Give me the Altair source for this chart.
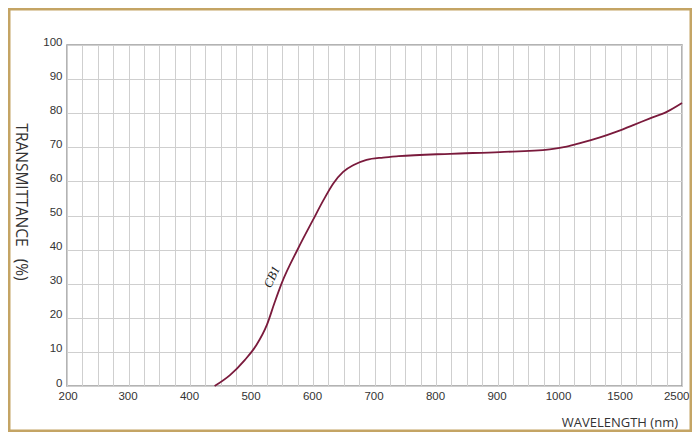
import altair as alt
import pandas as pd

# ---- data ----
wavelength = [440, 465, 489, 508, 525, 538, 549, 576, 600, 617, 633, 649, 666,
              687, 714, 739, 823, 904, 985, 1062, 1171, 1333, 1469, 1708, 1980,
              2251, 2500]
transmittance = [0, 3.2, 7.6, 12.0, 17.9, 24.7, 30.1, 40.4, 48.7, 54.5, 59.4,
                 62.8, 64.8, 66.3, 67.0, 67.4, 68.1, 68.6, 69.4, 70.2, 71.2,
                 72.9, 74.6, 76.5, 78.5, 80.4, 83.0]
x_tick_labels = [200, 300, 400, 500, 600, 700, 800, 900, 1000, 1500, 2500]
y_tick_labels = [0, 10, 20, 30, 40, 50, 60, 70, 80, 90, 100]
curve_name = "CB1"
curve_label_at = (533, 32)
x_title = "WAVELENGTH (nm)"
y_title = "TRANSMITTANCE\u00a0\u00a0\u00a0(%)"

W, H = 615, 341
df = pd.DataFrame({"wl": wavelength, "t": transmittance})

# piecewise-linear wavelength axis (equal spacing per labelled step)
xscale = alt.Scale(domain=[200, 1000, 1500, 2500],
                   range=[0, W * 8 / 10, W * 9 / 10, W])
yscale = alt.Scale(domain=[0, 100], nice=False)

grid_vals = (list(range(200, 1000, 25)) + [1000, 1125, 1250, 1375, 1500,
             1750, 2000, 2250, 2500])
label_list = ",".join(str(v) for v in x_tick_labels)

FONT = "Liberation Sans"
TITLE_FONT = "Open Sans"
LINE = "#7a1a3c"

x_enc = alt.X("wl:Q", scale=xscale, axis=alt.Axis(
    values=grid_vals, format="d", grid=True, ticks=False, domain=False,
    labelExpr=f"indexof([{label_list}], datum.value) >= 0 ? datum.label : ''",
    labelFont=FONT, labelFontSize=11.5, labelColor="#333", labelPadding=4,
    labelOffset=-1, labelOverlap=False, labelFlush=True, labelFlushOffset=8,
    title=None))
y_enc = alt.Y("t:Q", scale=yscale, axis=alt.Axis(
    values=y_tick_labels, grid=True, ticks=False, domain=False,
    labelFont=FONT, labelFontSize=11.5, labelColor="#333", labelPadding=5,
    labelOffset=-3, labelOverlap=False, title=None))

line = alt.Chart(df).mark_line(color=LINE, strokeWidth=1.8,
                               interpolate="monotone").encode(x=x_enc, y=y_enc)

lab = alt.Chart(pd.DataFrame({"wl": [curve_label_at[0]],
                              "t": [curve_label_at[1]],
                              "s": [curve_name]})).mark_text(
    font="Liberation Serif", fontStyle="italic", fontSize=12.5, angle=295,
    color="#222", align="center", baseline="middle").encode(
    x=x_enc, y=y_enc, text="s:N")

xt = alt.Chart(pd.DataFrame({"s": [x_title]})).mark_text(
    font=TITLE_FONT, fontSize=13, color="#333", align="right",
    baseline="middle").encode(x=alt.value(611), y=alt.value(378), text="s:N")

yt = alt.Chart(pd.DataFrame({"s": [y_title]})).mark_text(
    font=TITLE_FONT, fontSize=15.5, color="#333", align="center",
    baseline="middle", angle=90).encode(x=alt.value(-46), y=alt.value(157),
                                        text="s:N")

border = alt.Chart(pd.DataFrame({"a": [0]})).mark_rect(
    fill=None, stroke="#c4a464", strokeWidth=2.5).encode(
    x=alt.value(-57.75), x2=alt.value(W + 8.75),
    y=alt.value(-35.75), y2=alt.value(H + 44.75))

chart = alt.layer(line, lab, xt, yt, border).properties(
    width=W, height=H,
    autosize=alt.AutoSizeParams(type="none"),
    padding={"left": 59, "top": 37, "right": 10, "bottom": 46},
    background="white",
).configure_view(stroke="#9a9a9a", strokeWidth=1.5).configure_axis(
    gridColor="#cfcfcf", gridWidth=1, gridOpacity=1)

chart.save("out.html", embed_options={"renderer": "svg", "actions": False})
